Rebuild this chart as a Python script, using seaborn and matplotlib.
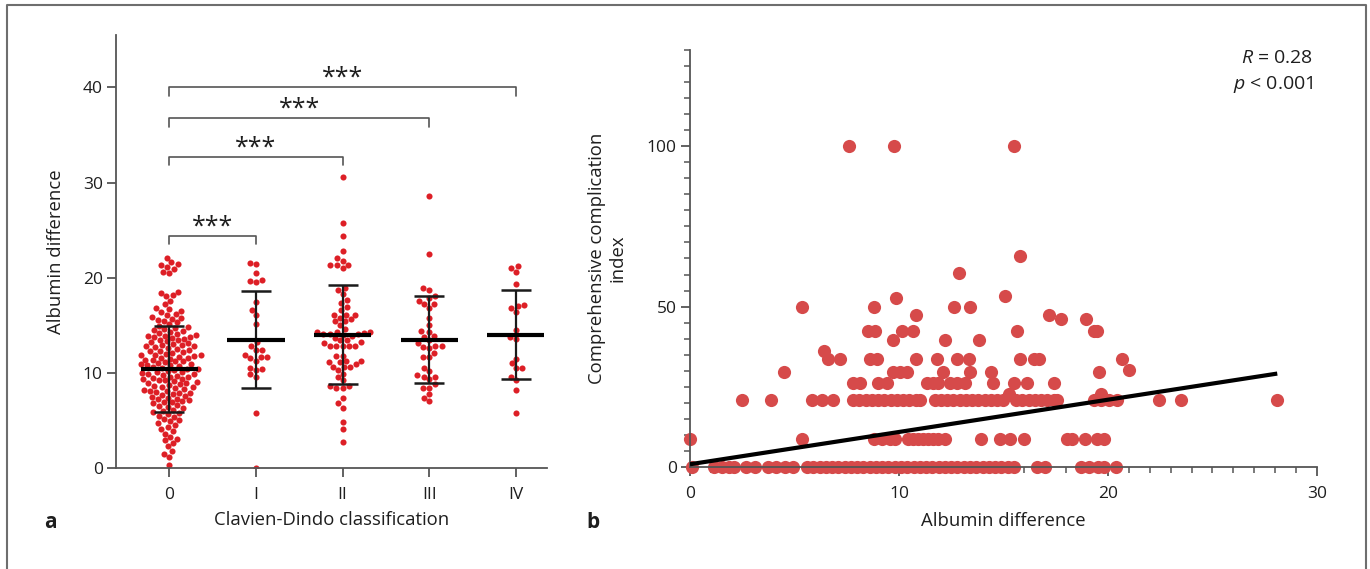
import numpy as np
import pandas as pd
import matplotlib
matplotlib.use("Agg")
import matplotlib.pyplot as plt
from matplotlib.lines import Line2D
from matplotlib.ticker import MultipleLocator
import seaborn as sns

# ---- panel a: albumin difference by Clavien-Dindo grade ----
categories = ["0", "I", "II", "III", "IV"]

grade_0 = [0.3, 1.2, 1.5, 1.8, 2.3, 2.6, 2.9, 3.1, 3.3, 3.6, 3.9,
           4.1, 4.3, 4.5, 4.7, 4.9, 5.0, 5.2, 5.4, 5.5, 5.7, 5.8, 5.9,
           6.0, 6.1, 6.3, 6.4, 6.5, 6.6, 6.8, 6.9, 6.9,
           7.0, 7.1, 7.2, 7.3, 7.4, 7.5, 7.6, 7.7, 7.8, 7.9, 7.9,
           8.0, 8.1, 8.1, 8.2, 8.3, 8.4, 8.5, 8.5, 8.6, 8.7, 8.8, 8.9, 8.9,
           9.0, 9.1, 9.2, 9.2, 9.3, 9.4, 9.5, 9.6, 9.6, 9.7, 9.8, 9.9, 9.9,
           10.0, 10.1, 10.1, 10.2, 10.3, 10.4, 10.4, 10.5, 10.6, 10.7, 10.8, 10.8, 10.9, 10.9,
           11.0, 11.1, 11.2, 11.2, 11.3, 11.4, 11.5, 11.6, 11.6, 11.7, 11.8, 11.9, 11.9, 11.9,
           12.0, 12.1, 12.2, 12.3, 12.3, 12.4, 12.5, 12.6, 12.7, 12.8, 12.8, 12.9, 12.9,
           13.0, 13.1, 13.2, 13.3, 13.4, 13.5, 13.6, 13.7, 13.8, 13.8, 13.9, 13.9,
           14.0, 14.1, 14.2, 14.3, 14.4, 14.5, 14.6, 14.7, 14.8, 14.9,
           15.1, 15.3, 15.4, 15.6, 15.7, 15.8, 15.9,
           16.1, 16.2, 16.4, 16.5, 16.7, 16.8, 17.2, 17.6,
           18.1, 18.2, 18.4, 18.5, 20.5, 20.6, 20.9,
           21.1, 21.3, 21.4, 21.6, 22.1]
grade_1 = [21.4, 21.5, 20.5, 19.5, 19.8, 19.7, 17.4, 16.6, 16.1, 15.1,
           13.2, 12.85, 12.4, 12.4, 11.9, 11.7, 11.7, 11.55, 11.26,
           10.3, 10.56, 10.4, 9.86, 9.58, 5.75, 0.0]
grade_2 = [30.6, 25.7, 24.4, 22.8, 21.8, 22.1, 21.05, 21.3, 21.3, 21.3,
           18.9, 18.7, 18.3, 17.7, 17.3, 16.95, 16.6, 16.1, 16.1, 16.1,
           15.65, 15.8, 15.4, 15.4, 15.0, 14.6, 14.1, 14.1, 14.2, 14.3,
           14.3, 14.3, 14.1, 13.5, 13.7, 13.4, 13.9, 14.0, 12.8, 12.8,
           13.1, 12.8, 12.8, 12.85, 13.2, 11.8, 11.8, 11.1, 11.26, 11.26,
           10.9, 10.6, 10.6, 10.25, 10.6, 11.1, 9.6, 9.2, 9.86, 8.6,
           8.6, 8.45, 8.45, 7.4, 6.8, 6.35, 4.8, 4.15, 2.7]
grade_3 = [28.6, 22.5, 18.7, 18.9, 18.1, 17.9, 17.2, 16.8, 17.2, 17.5,
           15.8, 14.4, 15.0, 14.25, 13.9, 13.8, 13.5, 13.1, 12.8, 12.7,
           12.6, 12.1, 12.8, 11.7, 11.7, 10.56, 10.2, 9.8, 9.6, 9.6,
           9.3, 8.8, 8.45, 8.45, 7.75, 7.37, 7.0]
grade_4 = [21.0, 20.6, 21.2, 19.3, 17.0, 17.1, 16.85, 16.4, 14.5, 13.8,
           13.6, 11.5, 10.56, 11.05, 10.56, 9.6, 9.2, 8.2, 5.75]

group_means = [10.4, 13.5, 14.0, 13.5, 14.0]
group_sd = [4.5, 5.05, 5.2, 4.55, 4.7]

sig_pairs = [(0, 1), (0, 2), (0, 3), (0, 4)]
sig_heights = [24.4, 32.7, 36.75, 40.0]
sig_labels = ["***", "***", "***", "***"]

# ---- panel b: CCI vs albumin difference ----
cci_levels = [0, 8.7, 20.9, 22.6, 26.2, 29.6, 30.3, 33.7, 36.2, 39.5,
              42.4, 46.2, 47.3, 50.0, 52.8, 53.4, 60.4, 65.7, 100.0]
albumin_by_level = [
    [0.1, 1.17, 1.54, 1.86, 2.13, 2.69, 3.09, 3.73, 4.13, 4.53, 4.93,
     5.6, 5.9, 6.2, 6.5, 6.8, 7.1, 7.4, 7.7, 8.0, 8.3, 8.6, 8.9, 9.2,
     9.5, 9.8, 10.1, 10.4, 10.7, 11.0, 11.3, 11.6, 11.9, 12.2, 12.5,
     12.8, 13.1, 13.4, 13.7, 14.0, 14.3, 14.6, 14.9, 15.2, 15.5,
     16.6, 17.0, 18.7, 19.1, 19.5, 19.8, 20.4],
    [0.0, 5.38, 8.82, 9.17, 9.57, 9.8, 10.42, 10.69, 10.93, 11.17, 11.41,
     11.65, 11.89, 12.21, 13.94, 14.82, 15.33, 15.97, 18.05, 18.29,
     18.9, 19.49, 19.81],
    [2.5, 3.86, 5.86, 6.34, 6.85, 7.78, 8.1, 8.4, 8.7, 9.0, 9.3, 9.6,
     9.9, 10.2, 10.5, 10.8, 11.0, 11.73, 12.0, 12.3, 12.6, 12.9, 13.2,
     13.5, 13.8, 14.1, 14.4, 14.7, 15.0, 15.6, 15.9, 16.2, 16.5, 16.8,
     17.1, 17.4, 17.57, 19.33, 19.65, 20.05, 20.45, 22.45, 23.5, 28.1],
    [15.25, 19.68],
    [7.81, 8.13, 9.0, 9.41, 11.33, 11.65, 11.89, 12.45, 12.77, 13.17,
     14.5, 15.49, 16.13, 17.41],
    [4.5, 9.73, 10.05, 10.37, 12.13, 13.41, 14.4, 19.57],
    [21.0],
    [6.61, 7.17, 8.61, 8.93, 10.82, 11.81, 12.77, 13.33, 15.81, 16.45,
     16.69, 20.69],
    [6.42],
    [9.7, 12.21, 13.84],
    [8.5, 8.85, 10.13, 10.66, 15.65, 19.33, 19.49],
    [17.73, 18.93],
    [10.82, 17.17],
    [5.38, 8.82, 12.61, 13.41],
    [9.86],
    [15.09],
    [12.85],
    [15.8],
    [7.6, 9.75, 15.5],
]
fit_intercept = 0.85
fit_slope = 1.006
r_text = "0.28"
p_text = "0.001"

# ---- build tables ----
grades = [grade_0, grade_1, grade_2, grade_3, grade_4]
df_a = pd.DataFrame({
    "grade": [c for c, g in zip(categories, grades) for _ in g],
    "albumin": [v for g in grades for v in g],
})
df_b = pd.DataFrame({
    "albumin": [x for xs in albumin_by_level for x in xs],
    "cci": [lvl for lvl, xs in zip(cci_levels, albumin_by_level) for _ in xs],
})

sns.set_theme(style="ticks")
plt.rcParams["font.family"] = ["Open Sans", "DejaVu Sans"]
plt.rcParams["mathtext.fontset"] = "custom"
plt.rcParams["mathtext.it"] = "Open Sans:italic"
plt.rcParams["mathtext.rm"] = "Open Sans"

text_col = "#1e1e1e"
axis_col = "#555555"
fs = 12.5
fs_lab = 13.3

fig = plt.figure(figsize=(13.7, 5.69), dpi=100)
ax1 = fig.add_axes([0.0847, 0.1775, 0.3146, 0.761])
ax2 = fig.add_axes([0.5036, 0.1793, 0.4577, 0.7329])

# panel a
sns.swarmplot(data=df_a, x="grade", y="albumin", order=categories,
              color="#dd1f26", size=4.4, ax=ax1, zorder=2)
pos = np.arange(len(categories))
ax1.errorbar(pos, group_means, yerr=group_sd, fmt="none", ecolor="#1a1a1a",
             elinewidth=1.6, capsize=10.5, capthick=1.8, zorder=3)
ax1.hlines(group_means, pos - 0.33, pos + 0.33, color="black", lw=3.0, zorder=4)

for (a, b), h, lab in zip(sig_pairs, sig_heights, sig_labels):
    ax1.plot([a, a, b, b], [h - 0.9, h, h, h - 0.9], color="#555555",
             lw=1.2, clip_on=False, zorder=3)
    ax1.text((a + b) / 2, h + 0.25, lab, ha="center", va="baseline",
             fontsize=18, color=text_col)

ax1.set_xlim(-0.615, 4.36)
ax1.set_ylim(0, 45.5)
ax1.set_yticks([0, 10, 20, 30, 40])
ax1.set_xlabel("Clavien-Dindo classification", fontsize=fs_lab, color=text_col)
ax1.set_ylabel("Albumin difference", fontsize=fs_lab, color=text_col)
ax1.xaxis.set_label_coords(0.5, -0.10)
ax1.yaxis.set_label_coords(-0.118, 0.5)

# panel b
sns.scatterplot(data=df_b, x="albumin", y="cci", color="#d64a4a", s=90,
                linewidth=0, ax=ax2, clip_on=False, zorder=2)
xs = np.array([df_b["albumin"].min(), df_b["albumin"].max()])
ax2.plot(xs, fit_intercept + fit_slope * xs, color="black", lw=3,
         solid_capstyle="butt", zorder=3)

ax2.set_xlim(0, 30)
ax2.set_ylim(0, 130)
ax2.set_xticks([0, 10, 20, 30])
ax2.set_yticks([0, 50, 100])
ax2.xaxis.set_minor_locator(MultipleLocator(1))
ax2.yaxis.set_minor_locator(MultipleLocator(5))
ax2.set_xlabel("Albumin difference", fontsize=fs_lab, color=text_col)
ax2.set_ylabel("Comprehensive complication\nindex", fontsize=fs_lab, color=text_col)
ax2.xaxis.set_label_coords(0.5, -0.108)
ax2.yaxis.set_label_coords(-0.1005, 0.5)
ax2.text(0.9936, 0.981, r"$\it{R}$ = " + r_text, transform=ax2.transAxes,
         ha="right", va="center", fontsize=14, color=text_col)
ax2.text(0.9936, 0.916, r"$\it{p}$ < " + p_text, transform=ax2.transAxes,
         ha="right", va="center", fontsize=14, color=text_col)

for ax in (ax1, ax2):
    sns.despine(ax=ax)
    for side in ("left", "bottom"):
        ax.spines[side].set_color(axis_col)
        ax.spines[side].set_linewidth(1.3)
    ax.tick_params(which="major", length=6.5, width=1.3, color=axis_col,
                   labelsize=fs, labelcolor=text_col, pad=3)
    ax.tick_params(axis="x", which="major", pad=7)
ax2.tick_params(which="minor", length=4, width=1.1, color=axis_col)

fig.text(0.0365, 0.081, "a", fontsize=15, fontweight="bold", ha="center",
         va="center", color=text_col)
fig.text(0.433, 0.081, "b", fontsize=15, fontweight="bold", ha="center",
         va="center", color=text_col)

# outer frame (left, top, right)
fig.add_artist(Line2D([0.0051, 0.0051, 0.9971, 0.9971], [0, 0.9912, 0.9912, 0],
                      transform=fig.transFigure, color="#6e6e6e", lw=1.5))

fig.savefig("out.png", dpi=100)
